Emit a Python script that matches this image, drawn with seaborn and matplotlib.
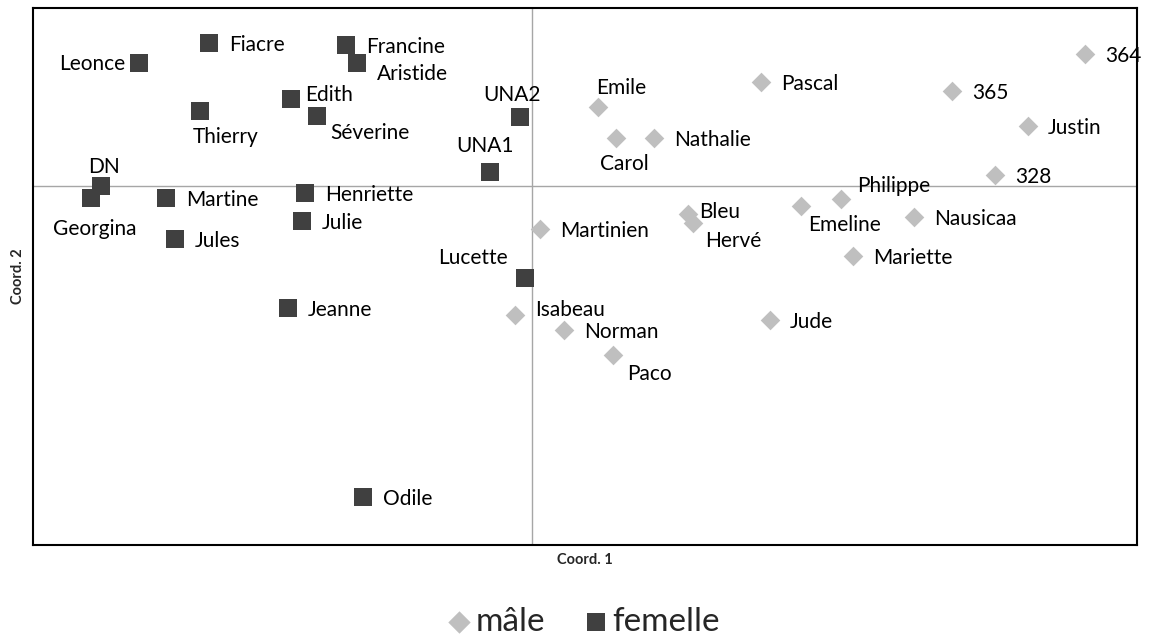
import pandas as pd
import matplotlib.pyplot as plt
import seaborn as sns

# coordinates
femelle_noms = ['Leonce', 'Fiacre', 'Francine', 'Aristide', 'Edith', 'Thierry', 'Séverine',
                'UNA2', 'UNA1', 'DN', 'Georgina', 'Martine', 'Henriette', 'Julie', 'Jules',
                'Lucette', 'Jeanne', 'Odile']
femelle_x = [-3.93, -3.23, -1.86, -1.75, -2.41, -3.32, -2.15, -0.12, -0.42, -4.31, -4.41,
             -3.66, -2.27, -2.30, -3.57, -0.07, -2.44, -1.69]
femelle_y = [1.23, 1.43, 1.41, 1.23, 0.87, 0.75, 0.70, 0.69, 0.14, 0.00, -0.12, -0.12,
             -0.07, -0.35, -0.53, -0.92, -1.22, -3.11]

male_noms = ['364', 'Pascal', '365', 'Emile', 'Justin', 'Carol', 'Nathalie', '328', 'Philippe',
             'Emeline', 'Bleu', 'Hervé', 'Nausicaa', 'Martinien', 'Mariette', 'Isabeau',
             'Norman', 'Jude', 'Paco']
male_x = [5.53, 2.29, 4.20, 0.66, 4.96, 0.84, 1.22, 4.63, 3.09, 2.69, 1.56, 1.61, 3.82,
          0.08, 3.21, -0.17, 0.32, 2.38, 0.81]
male_y = [1.32, 1.04, 0.95, 0.79, 0.60, 0.48, 0.48, 0.11, -0.13, -0.20, -0.28, -0.37, -0.31,
          -0.43, -0.70, -1.29, -1.44, -1.34, -1.69]

# label placement (offset in pixels, horizontal alignment)
offsets = {
    'Leonce': (-14, 0, 'right'), 'Thierry': (-7, -25, 'left'), 'Séverine': (13, -16, 'left'),
    'Edith': (14, 5, 'left'), 'Aristide': (20, -10, 'left'), 'UNA2': (-8, 23, 'center'),
    'UNA1': (-5, 27, 'center'), 'DN': (3, 20, 'center'), 'Georgina': (4, -30, 'center'),
    'Lucette': (-17, 21, 'right'), 'Emile': (23, 20, 'center'), 'Carol': (8, -25, 'center'),
    'Philippe': (16, 14, 'left'), 'Emeline': (7, -18, 'left'), 'Bleu': (11, 3, 'left'),
    'Hervé': (12, -17, 'left'), 'Isabeau': (20, 6, 'left'), 'Paco': (14, -18, 'left'),
}

fem = pd.DataFrame({'nom': femelle_noms, 'x': femelle_x, 'y': femelle_y, 'sexe': 'femelle'})
mal = pd.DataFrame({'nom': male_noms, 'x': male_x, 'y': male_y, 'sexe': 'mâle'})

sns.set_style('white')
plt.rcParams['font.family'] = ['Lato', 'DejaVu Sans']

fig = plt.figure(figsize=(11.51, 6.37), dpi=100)
ax = fig.add_axes([0.0287, 0.1444, 0.9591, 0.843])

ax.axhline(0, color='#a6a6a6', lw=1, zorder=0)
ax.axvline(0, color='#a6a6a6', lw=1, zorder=0)

sns.scatterplot(data=mal, x='x', y='y', color='#bfbfbf', marker='D', s=100,
                linewidth=0, ax=ax, label='mâle', zorder=3)
sns.scatterplot(data=fem, x='x', y='y', color='#404040', marker='s', s=150,
                linewidth=0, ax=ax, label='femelle', zorder=3)

for _, r in pd.concat([fem, mal]).iterrows():
    dx, dy, ha = offsets.get(r['nom'], (20, -1, 'left'))
    ax.annotate(r['nom'], (r['x'], r['y']), xytext=(dx, dy - 1), textcoords='offset pixels',
                ha=ha, va='center', fontsize=15, color='black')

ax.set_xlim(-4.99, 6.05)
ax.set_ylim(-3.59, 1.78)
ax.set_xticks([])
ax.set_yticks([])
ax.set_xlabel('Coord. 1', fontsize=10.5, fontweight='bold', labelpad=6)
ax.set_ylabel('Coord. 2', fontsize=10.5, fontweight='bold', labelpad=6)
for sp in ax.spines.values():
    sp.set_color('black')
    sp.set_linewidth(1.5)

handles, labels = ax.get_legend_handles_labels()
ax.legend_.remove()
leg = fig.legend(handles, labels, loc='center', bbox_to_anchor=(0.505, 0.024), ncol=2,
                 frameon=False, fontsize=24, handletextpad=0.0,
                 columnspacing=1.0, handlelength=1.0)
leg.legend_handles[0].set_sizes([130])
leg.legend_handles[1].set_sizes([180])

fig.savefig('out.png', dpi=100)
